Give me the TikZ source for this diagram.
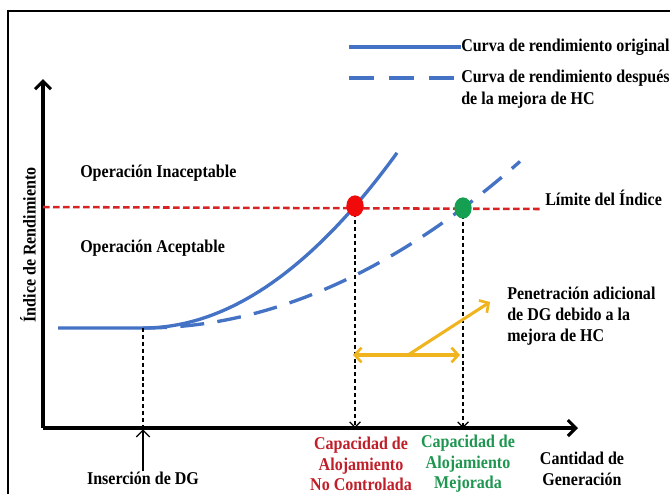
\documentclass[tikz,border=0pt]{standalone}
\usepackage{fontspec}
\setmainfont{Liberation Serif}
\newfontfamily\lblfont[FakeStretch=0.89]{Liberation Serif}
\usetikzlibrary{arrows.meta,shapes.geometric}
\definecolor{curveblue}{RGB}{68,114,196}
\definecolor{limred}{RGB}{215,35,35}
\definecolor{dotred}{RGB}{240,10,10}
\definecolor{dotgreen}{RGB}{20,160,80}
\definecolor{labred}{RGB}{192,30,40}
\definecolor{labgreen}{RGB}{30,150,80}
\definecolor{orng}{RGB}{240,180,30}
\begin{document}
\begin{tikzpicture}[x=0.75pt,y=-0.75pt,
  lbl/.style={font=\lblfont\bfseries\fontsize{13.5}{15.4}\selectfont, inner sep=0pt},
  curve/.style={draw=curveblue, line width=2.5pt},
  curvedash/.style={curve, dash pattern=on 18pt off 10pt},
  axis/.style={line width=2.3pt, -{Straight Barb[length=6pt,width=12pt,line width=2.3pt]}},
  vdash/.style={line width=1.1pt, dash pattern=on 3pt off 2.2pt, -{Straight Barb[length=4pt,width=8pt,line width=0.9pt]}},
  vdashplain/.style={line width=1.1pt, dash pattern=on 3pt off 2.2pt},
  limline/.style={draw=limred, line width=1.9pt, dash pattern=on 5pt off 2.5pt},
  oarrow/.style={draw=orng, line width=2.3pt},
  dot/.style={ellipse, minimum width=13pt, minimum height=16pt, inner sep=0pt}
]
\useasboundingbox (0,0) rectangle (670,494);
% frame
\draw[line width=1.5pt] (8,494) -- (8,11) -- (670,11);

% axes
\coordinate (O) at (43,428);
\coordinate (yend) at (43,79);
\coordinate (xend) at (578,428);
\draw[axis] (O) -- (yend);
\draw[axis] (O) -- (xend);

% labels
\node[lbl, rotate=90] (ylab) at (28,245) {Índice de Rendimiento};
\node[lbl, anchor=west] (inac) at (80,173) {Operación Inaceptable};
\node[lbl, anchor=west] (acep) at (80,248) {Operación Aceptable};
\node[lbl, anchor=west] (lim) at (545,198) {Límite del Índice};

% limit line
\coordinate (l0) at (43,207);
\coordinate (l1) at (541,209);
\draw[limline] (l0) -- (l1);

% curves
\coordinate (k) at (143,328);
\coordinate (c0) at (58,328);
\draw[curve] (c0) -- (k) -- plot[domain=143:397,samples=60] (\x,{328-27.15*((\x-143)/100)^2});
\draw[curvedash] plot[domain=143:520,samples=80] (\x,{328-11.72*((\x-143)/100)^2});

% legend
\node[lbl, anchor=west] (leg1) at (461,47) {Curva de rendimiento original};
\node[lbl, anchor=west, align=left] (leg2) at (461,89) {Curva de rendimiento después\\[1.1pt]de la mejora de HC};
\coordinate (g1) at (349,47);
\coordinate (g2) at (349,78);
\draw[curve] (g1) -- (leg1.west);
\draw[curve, dash pattern=on 19pt off 11pt] (g2) -- (leg1.west |- g2);

% dots and vertical lines
\coordinate (rdc) at (355,206);
\coordinate (gdc) at (463,208);
\draw[vdashplain] (k) -- (k |- O);
\draw[vdash] (rdc) -- (rdc |- O);
\draw[vdash] (gdc) -- (gdc |- O);
\node[dot, fill=dotred] (rd) at (rdc) {};
\node[dot, fill=dotgreen] (gd) at (gdc) {};

% insertion
\node[lbl] (ins) at (143,478) {Inserción de DG};
\draw[line width=1.1pt, -{Straight Barb[length=5pt,width=10pt,line width=1pt]}] (ins.north) -- ([yshift=-1pt]ins |- O);

% orange arrows
\coordinate (oa) at (353,355);
\coordinate (ob) at (460,355);
\coordinate (om) at (408,355);
\coordinate (ot) at (490,302);
\draw[oarrow, {Straight Barb[length=5pt,width=11pt,line width=2pt]}-{Straight Barb[length=5pt,width=11pt,line width=2pt]}] (oa) -- (ob);
\draw[oarrow, -{Straight Barb[length=5pt,width=11pt,line width=2pt]}] (om) -- (ot);
\node[lbl, anchor=west, align=left] (pen) at (507,316) {Penetración adicional\\[0.4pt]de DG debido a la\\[0.4pt]mejora de HC};

% bottom labels
\node[lbl, align=center, text=labred] (capr) at (361,464) {Capacidad de\\Alojamiento\\No Controlada};
\node[lbl, align=center, text=labgreen] (capg) at (468,464) {Capacidad de\\Alojamiento\\Mejorada};
\node[lbl, align=center] (cant) at (582,469) {Cantidad de\\Generación};
\end{tikzpicture}
\end{document}
